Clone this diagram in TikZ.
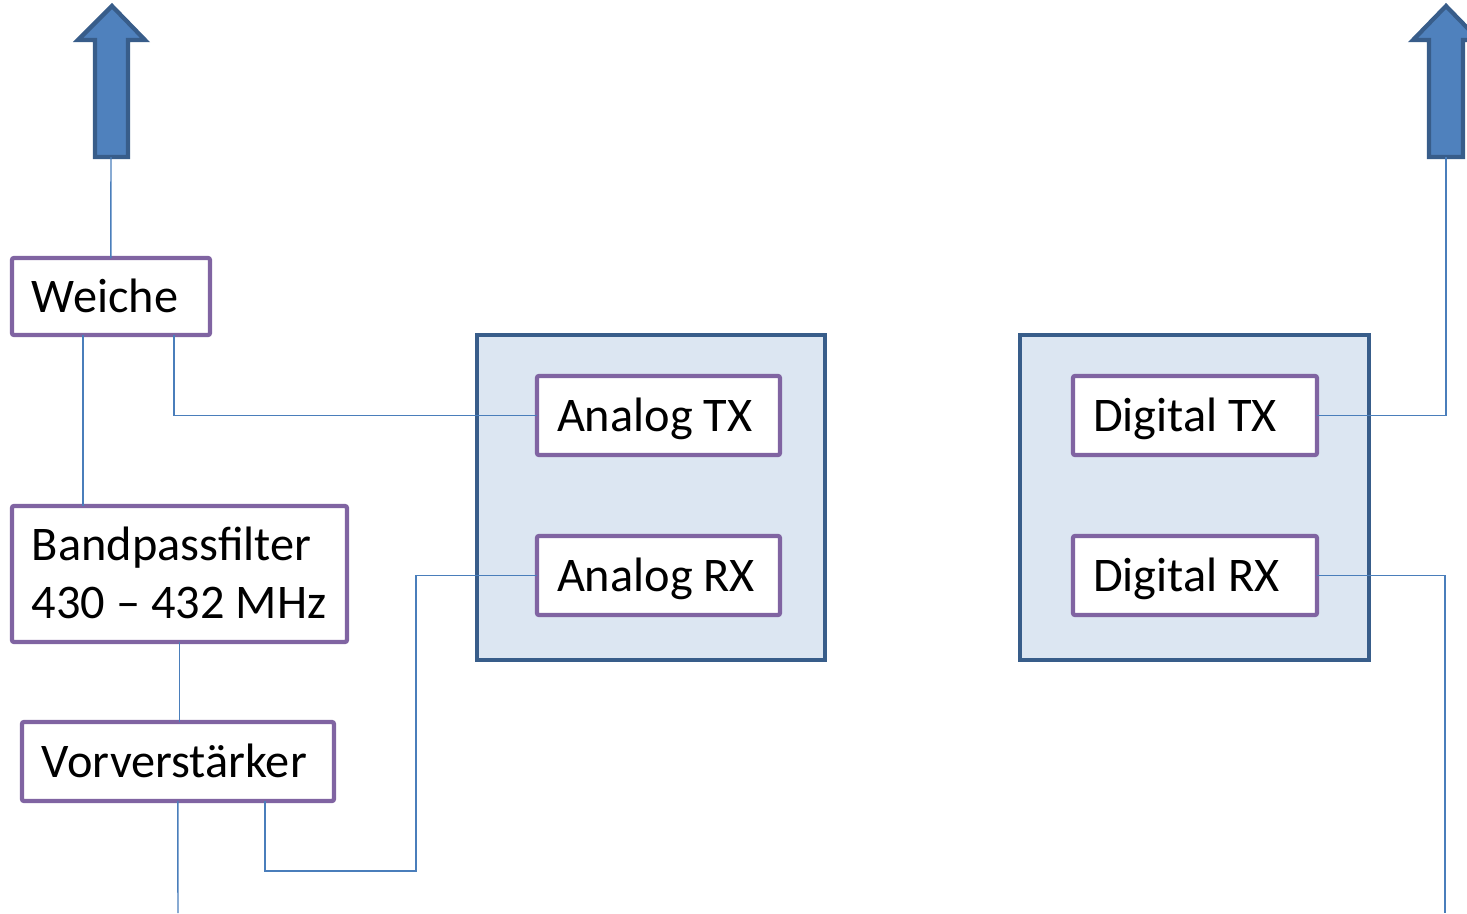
\documentclass[tikz,border=0pt]{standalone}
\usepackage{fontspec}
\setmainfont{Carlito}
\usetikzlibrary{calc}
\definecolor{boxpurple}{HTML}{8064A2}
\definecolor{grpborder}{HTML}{385D8A}
\definecolor{grpfill}{HTML}{DCE6F2}
\definecolor{wire}{HTML}{4A7EBB}
\definecolor{arrfill}{HTML}{4F81BD}
\tikzset{
  blk/.style={draw=boxpurple, line width=0.085cm, fill=white, rounded corners=0.04cm,
    anchor=north west, outer sep=0pt, inner xsep=0.4cm, inner ysep=0pt, align=flush left,
    font=\fontsize{27.5pt}{33pt}\selectfont, text height=17.7pt, text depth=0pt},
  grp/.style={draw=grpborder, line width=0.085cm, fill=grpfill, anchor=north west, inner sep=0pt, outer sep=0pt},
  wireline/.style={draw=wire, line width=0.85pt},
  bigarrow/.style={draw=grpborder, fill=arrfill, line width=0.085cm, line join=miter}
}
\begin{document}
\begin{tikzpicture}[x=0.02cm,y=-0.02cm]
\useasboundingbox (0,0) rectangle (1467,913);
\clip (0,0) rectangle (1467,913);
% big arrows
\draw[bigarrow] (112,6) -- (145,40) -- (128,40) -- (128,157) -- (95,157) -- (95,40) -- (78,40) -- cycle;
\draw[bigarrow] (1446,6) -- (1479,40) -- (1463,40) -- (1463,157) -- (1429,157) -- (1429,40) -- (1413,40) -- cycle;
\coordinate (a1b) at (111,157);
\coordinate (a2b) at (1446,157);
\coordinate (bot1) at (178,913);
\coordinate (bot2) at (1445,913);
\coordinate (rxbend) at (416,871);
% groups
\node[grp, minimum width=6.96cm, minimum height=6.5cm] (agrp) at (477,335) {};
\node[grp, minimum width=6.98cm, minimum height=6.5cm] (dgrp) at (1020,335) {};
% blocks
\node[blk, minimum width=3.96cm, minimum height=1.54cm, text width=3.16cm] (weiche) at (12,258) {Weiche};
\node[blk, minimum width=6.7cm, minimum height=2.72cm, text width=5.9cm, text depth=33pt] (band) at (12,506) {Bandpassfilter\\430 – 432 MHz};
\node[blk, minimum width=6.24cm, minimum height=1.58cm, text width=5.44cm] (vor) at (22,722) {Vorverstärker};
\node[blk, minimum width=4.86cm, minimum height=1.58cm, text width=4.06cm] (atx) at (537,376) {Analog TX};
\node[blk, minimum width=4.86cm, minimum height=1.58cm, text width=4.06cm] (arx) at (537,536) {Analog RX};
\node[blk, minimum width=4.88cm, minimum height=1.58cm, text width=4.08cm] (dtx) at (1073,376) {Digital TX};
\node[blk, minimum width=4.88cm, minimum height=1.58cm, text width=4.08cm] (drx) at (1073,536) {Digital RX};
% connectors
\draw[wireline] (a1b) -- (weiche.north);
\draw[wireline] ([xshift=1.42cm]weiche.south west) -- ([xshift=1.42cm]band.north west);
\draw[wireline] ([xshift=3.24cm]weiche.south west) |- (atx.west);
\draw[wireline] (band.south) -- (band.south |- vor.north);
\draw[wireline] (vor.south) -- (bot1);
\draw[wireline] ([xshift=4.86cm]vor.south west) |- (rxbend) |- (arx.west);
\draw[wireline] (dtx.east) -| (a2b);
\draw[wireline] (drx.east) -| (bot2);
\end{tikzpicture}
\end{document}
